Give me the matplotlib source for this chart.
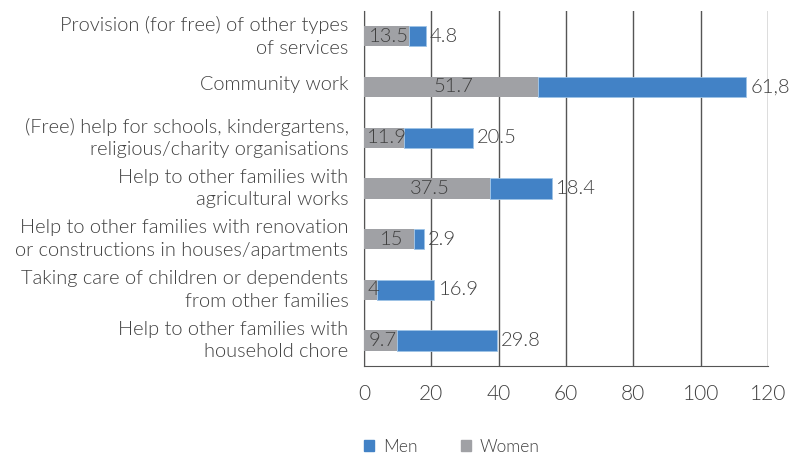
import numpy as np
import matplotlib
matplotlib.use('Agg')
import matplotlib.pyplot as plt
import matplotlib.transforms as mtransforms
from matplotlib.patches import Patch

plt.rcParams['font.family'] = ['Lato', 'DejaVu Sans']
plt.rcParams['font.weight'] = 300

categories = [
    'Provision (for free) of other types\nof services',
    'Community work',
    '(Free) help for schools, kindergartens,\nreligious/charity organisations',
    'Help to other families with\nagricultural works',
    'Help to other families with renovation\nor constructions in houses/apartments',
    'Taking care of children or dependents\nfrom other families',
    'Help to other families with\nhousehold chore',
]
women = [13.5, 51.7, 11.9, 37.5, 15, 4, 9.7]
men = [4.8, 61.8, 20.5, 18.4, 2.9, 16.9, 29.8]
women_labels = ['13.5', '51.7', '11.9', '37.5', '15', '4', '9.7']
men_labels = ['4.8', '61,8', '20.5', '18.4', '2.9', '16.9', '29.8']
xticks = [0, 20, 40, 60, 80, 100, 120]

c_women = '#A0A1A5'
c_men = '#4282C6'
c_text = '#404040'
c_grid = '#555555'

fig = plt.figure(figsize=(7.91, 4.55), dpi=100)
ax = fig.add_axes([0.460, 0.196, 0.511, 0.780])

y = np.arange(len(categories))
ax.barh(y, women, height=0.4, color=c_women, zorder=3)
ax.barh(y, men, left=women, height=0.4, color=c_men, zorder=3,
        edgecolor='#9DC3E6', linewidth=0.6)

for i in range(len(categories)):
    ax.text(women[i] / 2 + 0.8, y[i], women_labels[i], ha='center', va='center',
            fontsize=14.5, color=c_text, fontweight=300, zorder=4)
    ax.annotate(men_labels[i], (women[i] + men[i], y[i]), xytext=(3, 0),
                textcoords='offset points', ha='left', va='center',
                fontsize=14.5, color=c_text, fontweight=300, zorder=4)

ax.set_xlim(0, 120)
ax.set_ylim(len(categories) - 0.5, -0.5)
ax.set_xticks(xticks)
ax.set_yticks(y)
ax.set_yticklabels(categories, fontsize=14.4, color=c_text, fontweight=300,
                   linespacing=1.4)
ax.tick_params(axis='x', length=0, pad=13, labelsize=15, labelcolor=c_text)
ax.tick_params(axis='y', length=0, pad=11)
for lab in ax.get_xticklabels():
    lab.set_fontweight(300)
# nudge category labels up a little
shift = mtransforms.ScaledTranslation(0, 3 / 72, fig.dpi_scale_trans)
for lab in ax.get_yticklabels():
    lab.set_transform(lab.get_transform() + shift)

ax.grid(axis='x', color=c_grid, linewidth=1.0, zorder=0)
ax.spines['top'].set_visible(False)
ax.spines['right'].set_visible(False)
ax.spines['left'].set_color(c_grid)
ax.spines['bottom'].set_color(c_grid)

handles = [Patch(color=c_men, label='Men'), Patch(color=c_women, label='Women')]
leg = fig.legend(handles=handles, loc='center', bbox_to_anchor=(0.571, 0.018),
                 ncol=2, frameon=False, fontsize=12.5, handlelength=0.6,
                 handleheight=0.6, columnspacing=2.5, handletextpad=0.5)
for t in leg.get_texts():
    t.set_color(c_text)
    t.set_fontweight(300)

fig.savefig('out.png', dpi=100)
